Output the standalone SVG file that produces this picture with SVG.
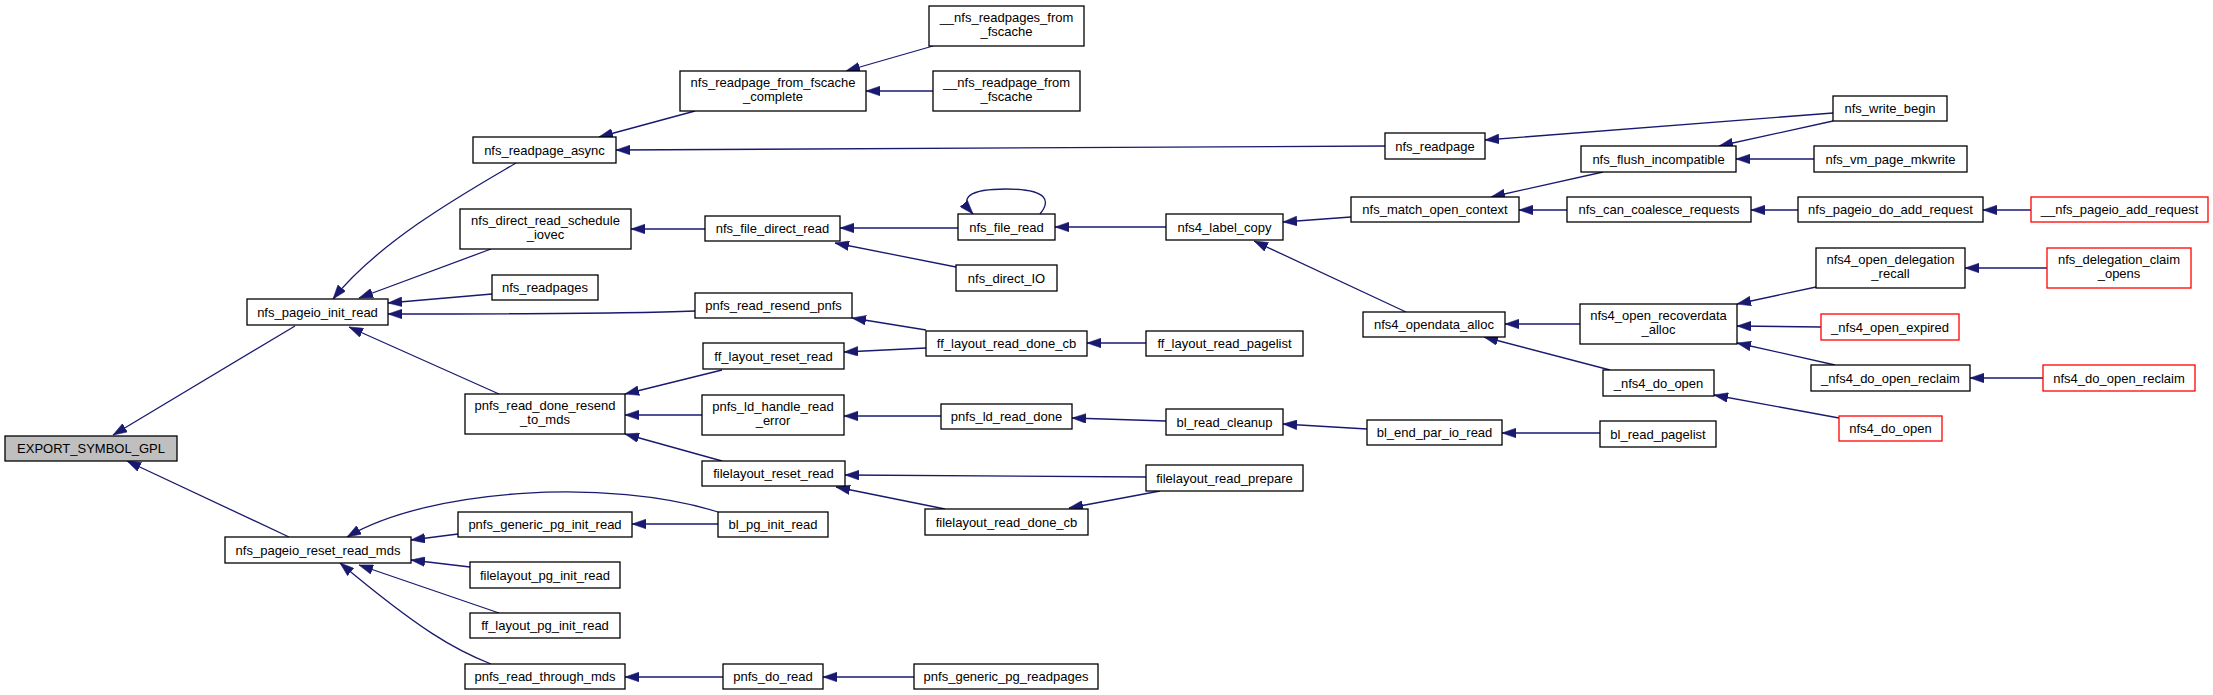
<svg xmlns="http://www.w3.org/2000/svg" width="2213" height="695" viewBox="0 0 2213 695">
<style>
.n rect{fill:#ffffff;stroke:#000000;stroke-width:1.3}
.g rect{fill:#bfbfbf;stroke:#000000;stroke-width:1.3}
.r rect{fill:#ffffff;stroke:#ff0000;stroke-width:1.3}
text{font-family:"Liberation Sans",Arial,Helvetica,sans-serif;font-size:13px;fill:#000;text-anchor:middle}
#edges path{fill:none;stroke:#191970;stroke-width:1.3;marker-end:url(#ah)}
</style>
<defs>
<marker id="ah" markerUnits="userSpaceOnUse" markerWidth="14" markerHeight="10" refX="13" refY="4.5" orient="auto" viewBox="0 0 13 9">
<path d="M0,0 L13,4.5 L0,9 z" fill="#191970" stroke="#191970" stroke-width="0.5"/>
</marker>
</defs>
<rect width="2213" height="695" fill="#ffffff"/>
<g id="edges">
<path d="M295,326 L113,435"/>
<path d="M289,537 L127,461"/>
<path d="M516,163 C470,190 380,240 333,299"/>
<path d="M491,249 L359,298"/>
<path d="M492,294 L388,303"/>
<path d="M695,311 C620,314 520,314 388,314"/>
<path d="M499,394 L349,327"/>
<path d="M695,111 L599,137"/>
<path d="M1385,146 C1000,148 700,150 616,150"/>
<path d="M933,46 L846,71"/>
<path d="M933,91 L866,91"/>
<path d="M705,229 L631,229"/>
<path d="M958,228 L840,228"/>
<path d="M956,267 L835,243"/>
<path d="M1040,214 C1050,202 1050,189 1006,189 C970,189 958,197 973,214"/>
<path d="M1166,227 L1055,227"/>
<path d="M1351,217 L1283,222"/>
<path d="M1406,312 L1254,241"/>
<path d="M926,330 L852,318"/>
<path d="M926,348 L844,352"/>
<path d="M1146,343 L1087,343"/>
<path d="M722,370 L625,394"/>
<path d="M702,415 L625,415"/>
<path d="M722,461 L625,434"/>
<path d="M941,416 L844,416"/>
<path d="M1166,421 L1072,418"/>
<path d="M1367,429 L1283,424"/>
<path d="M1146,477 L845,475"/>
<path d="M945,509 L836,487"/>
<path d="M1160,491 L1069,508"/>
<path d="M718,512 C610,478 430,488 347,537"/>
<path d="M458,534 L411,540"/>
<path d="M470,567 L411,560"/>
<path d="M499,613 L359,565"/>
<path d="M491,664 C455,650 420,630 340,563"/>
<path d="M718,524 L632,524"/>
<path d="M723,677 L625,677"/>
<path d="M914,677 L823,677"/>
<path d="M1833,113 L1485,140"/>
<path d="M1833,121 L1719,146"/>
<path d="M1814,159 L1736,159"/>
<path d="M1603,172 L1491,197"/>
<path d="M1567,210 L1519,210"/>
<path d="M1798,210 L1751,210"/>
<path d="M2031,210 L1983,210"/>
<path d="M2047,268 L1965,268"/>
<path d="M1816,287 L1737,304"/>
<path d="M1821,327 L1737,326"/>
<path d="M1835,365 L1737,343"/>
<path d="M1580,324 L1505,324"/>
<path d="M1610,370 L1484,337"/>
<path d="M1839,418 L1714,395"/>
<path d="M2043,378 L1970,378"/>
<path d="M1600,433 L1502,433"/>
</g>
<g id="n_export" class="g"><rect x="5" y="436" width="172" height="25"/><text x="91" y="453">EXPORT_SYMBOL_GPL</text></g>
<g id="n_nfs_pageio_init_read" class="n"><rect x="247" y="299" width="141" height="26"/><text x="317.5" y="316.5">nfs_pageio_init_read</text></g>
<g id="n_nfs_pageio_reset_read_mds" class="n"><rect x="225" y="537" width="186" height="26"/><text x="318" y="554.5">nfs_pageio_reset_read_mds</text></g>
<g id="n_nfs_readpage_async" class="n"><rect x="473" y="137" width="143" height="26"/><text x="544.5" y="154.5">nfs_readpage_async</text></g>
<g id="n_nfs_direct_read_schedule_iovec" class="n"><rect x="460" y="209" width="171" height="40"/><text x="545.5" y="225">nfs_direct_read_schedule</text><text x="545.5" y="239">_iovec</text></g>
<g id="n_nfs_readpages" class="n"><rect x="492" y="275" width="106" height="25"/><text x="545" y="292">nfs_readpages</text></g>
<g id="n_pnfs_read_done_resend_to_mds" class="n"><rect x="465" y="394" width="160" height="40"/><text x="545" y="410">pnfs_read_done_resend</text><text x="545" y="424">_to_mds</text></g>
<g id="n_pnfs_generic_pg_init_read" class="n"><rect x="458" y="512" width="174" height="25"/><text x="545" y="529">pnfs_generic_pg_init_read</text></g>
<g id="n_filelayout_pg_init_read" class="n"><rect x="470" y="562" width="150" height="26"/><text x="545" y="579.5">filelayout_pg_init_read</text></g>
<g id="n_ff_layout_pg_init_read" class="n"><rect x="470" y="613" width="150" height="25"/><text x="545" y="630">ff_layout_pg_init_read</text></g>
<g id="n_pnfs_read_through_mds" class="n"><rect x="465" y="664" width="160" height="25"/><text x="545" y="681">pnfs_read_through_mds</text></g>
<g id="n_nfs_readpage_from_fscache_complete" class="n"><rect x="680" y="71" width="186" height="40"/><text x="773" y="87">nfs_readpage_from_fscache</text><text x="773" y="101">_complete</text></g>
<g id="n_nfs_file_direct_read" class="n"><rect x="705" y="216" width="135" height="25"/><text x="772.5" y="233">nfs_file_direct_read</text></g>
<g id="n_pnfs_read_resend_pnfs" class="n"><rect x="695" y="293" width="157" height="25"/><text x="773.5" y="310">pnfs_read_resend_pnfs</text></g>
<g id="n_ff_layout_reset_read" class="n"><rect x="703" y="343" width="141" height="26"/><text x="773.5" y="360.5">ff_layout_reset_read</text></g>
<g id="n_pnfs_ld_handle_read_error" class="n"><rect x="702" y="395" width="142" height="40"/><text x="773" y="411">pnfs_ld_handle_read</text><text x="773" y="425">_error</text></g>
<g id="n_filelayout_reset_read" class="n"><rect x="702" y="461" width="143" height="25"/><text x="773.5" y="478">filelayout_reset_read</text></g>
<g id="n_bl_pg_init_read" class="n"><rect x="718" y="512" width="110" height="25"/><text x="773" y="529">bl_pg_init_read</text></g>
<g id="n_pnfs_do_read" class="n"><rect x="723" y="664" width="100" height="25"/><text x="773" y="681">pnfs_do_read</text></g>
<g id="n___nfs_readpages_from_fscache" class="n"><rect x="929" y="6" width="155" height="40"/><text x="1006.5" y="22">__nfs_readpages_from</text><text x="1006.5" y="36">_fscache</text></g>
<g id="n___nfs_readpage_from_fscache" class="n"><rect x="933" y="71" width="147" height="40"/><text x="1006.5" y="87">__nfs_readpage_from</text><text x="1006.5" y="101">_fscache</text></g>
<g id="n_nfs_file_read" class="n"><rect x="958" y="214" width="97" height="26"/><text x="1006.5" y="231.5">nfs_file_read</text></g>
<g id="n_nfs_direct_IO" class="n"><rect x="956" y="265" width="101" height="26"/><text x="1006.5" y="282.5">nfs_direct_IO</text></g>
<g id="n_ff_layout_read_done_cb" class="n"><rect x="926" y="331" width="161" height="25"/><text x="1006.5" y="348">ff_layout_read_done_cb</text></g>
<g id="n_pnfs_ld_read_done" class="n"><rect x="941" y="404" width="131" height="25"/><text x="1006.5" y="421">pnfs_ld_read_done</text></g>
<g id="n_filelayout_read_done_cb" class="n"><rect x="925" y="509" width="163" height="26"/><text x="1006.5" y="526.5">filelayout_read_done_cb</text></g>
<g id="n_pnfs_generic_pg_readpages" class="n"><rect x="914" y="664" width="184" height="25"/><text x="1006" y="681">pnfs_generic_pg_readpages</text></g>
<g id="n_nfs4_label_copy" class="n"><rect x="1166" y="214" width="117" height="26"/><text x="1224.5" y="231.5">nfs4_label_copy</text></g>
<g id="n_ff_layout_read_pagelist" class="n"><rect x="1146" y="331" width="157" height="25"/><text x="1224.5" y="348">ff_layout_read_pagelist</text></g>
<g id="n_bl_read_cleanup" class="n"><rect x="1166" y="409" width="117" height="26"/><text x="1224.5" y="426.5">bl_read_cleanup</text></g>
<g id="n_filelayout_read_prepare" class="n"><rect x="1146" y="465" width="157" height="26"/><text x="1224.5" y="482.5">filelayout_read_prepare</text></g>
<g id="n_nfs_readpage" class="n"><rect x="1385" y="133" width="100" height="26"/><text x="1435" y="150.5">nfs_readpage</text></g>
<g id="n_nfs_match_open_context" class="n"><rect x="1351" y="197" width="168" height="25"/><text x="1435" y="214">nfs_match_open_context</text></g>
<g id="n_nfs4_opendata_alloc" class="n"><rect x="1363" y="312" width="142" height="25"/><text x="1434" y="329">nfs4_opendata_alloc</text></g>
<g id="n_bl_end_par_io_read" class="n"><rect x="1367" y="420" width="135" height="25"/><text x="1434.5" y="437">bl_end_par_io_read</text></g>
<g id="n_nfs_flush_incompatible" class="n"><rect x="1581" y="146" width="155" height="26"/><text x="1658.5" y="163.5">nfs_flush_incompatible</text></g>
<g id="n_nfs_can_coalesce_requests" class="n"><rect x="1567" y="197" width="184" height="25"/><text x="1659" y="214">nfs_can_coalesce_requests</text></g>
<g id="n_nfs4_open_recoverdata_alloc" class="n"><rect x="1580" y="304" width="157" height="40"/><text x="1658.5" y="320">nfs4_open_recoverdata</text><text x="1658.5" y="334">_alloc</text></g>
<g id="n__nfs4_do_open" class="n"><rect x="1603" y="370" width="111" height="26"/><text x="1658.5" y="387.5">_nfs4_do_open</text></g>
<g id="n_bl_read_pagelist" class="n"><rect x="1600" y="421" width="116" height="26"/><text x="1658" y="438.5">bl_read_pagelist</text></g>
<g id="n_nfs_write_begin" class="n"><rect x="1833" y="96" width="114" height="25"/><text x="1890" y="113">nfs_write_begin</text></g>
<g id="n_nfs_vm_page_mkwrite" class="n"><rect x="1814" y="146" width="153" height="26"/><text x="1890.5" y="163.5">nfs_vm_page_mkwrite</text></g>
<g id="n_nfs_pageio_do_add_request" class="n"><rect x="1798" y="197" width="185" height="25"/><text x="1890.5" y="214">nfs_pageio_do_add_request</text></g>
<g id="n_nfs4_open_delegation_recall" class="n"><rect x="1816" y="248" width="149" height="40"/><text x="1890.5" y="264">nfs4_open_delegation</text><text x="1890.5" y="278">_recall</text></g>
<g id="n__nfs4_open_expired" class="r"><rect x="1821" y="314" width="138" height="26"/><text x="1890" y="331.5">_nfs4_open_expired</text></g>
<g id="n__nfs4_do_open_reclaim" class="n"><rect x="1811" y="365" width="159" height="26"/><text x="1890.5" y="382.5">_nfs4_do_open_reclaim</text></g>
<g id="n_nfs4_do_open" class="r"><rect x="1839" y="416" width="103" height="25"/><text x="1890.5" y="433">nfs4_do_open</text></g>
<g id="n___nfs_pageio_add_request" class="r"><rect x="2031" y="197" width="177" height="25"/><text x="2119.5" y="214">__nfs_pageio_add_request</text></g>
<g id="n_nfs_delegation_claim_opens" class="r"><rect x="2047" y="248" width="144" height="40"/><text x="2119" y="264">nfs_delegation_claim</text><text x="2119" y="278">_opens</text></g>
<g id="n_nfs4_do_open_reclaim" class="r"><rect x="2043" y="365" width="152" height="26"/><text x="2119" y="382.5">nfs4_do_open_reclaim</text></g>
</svg>
